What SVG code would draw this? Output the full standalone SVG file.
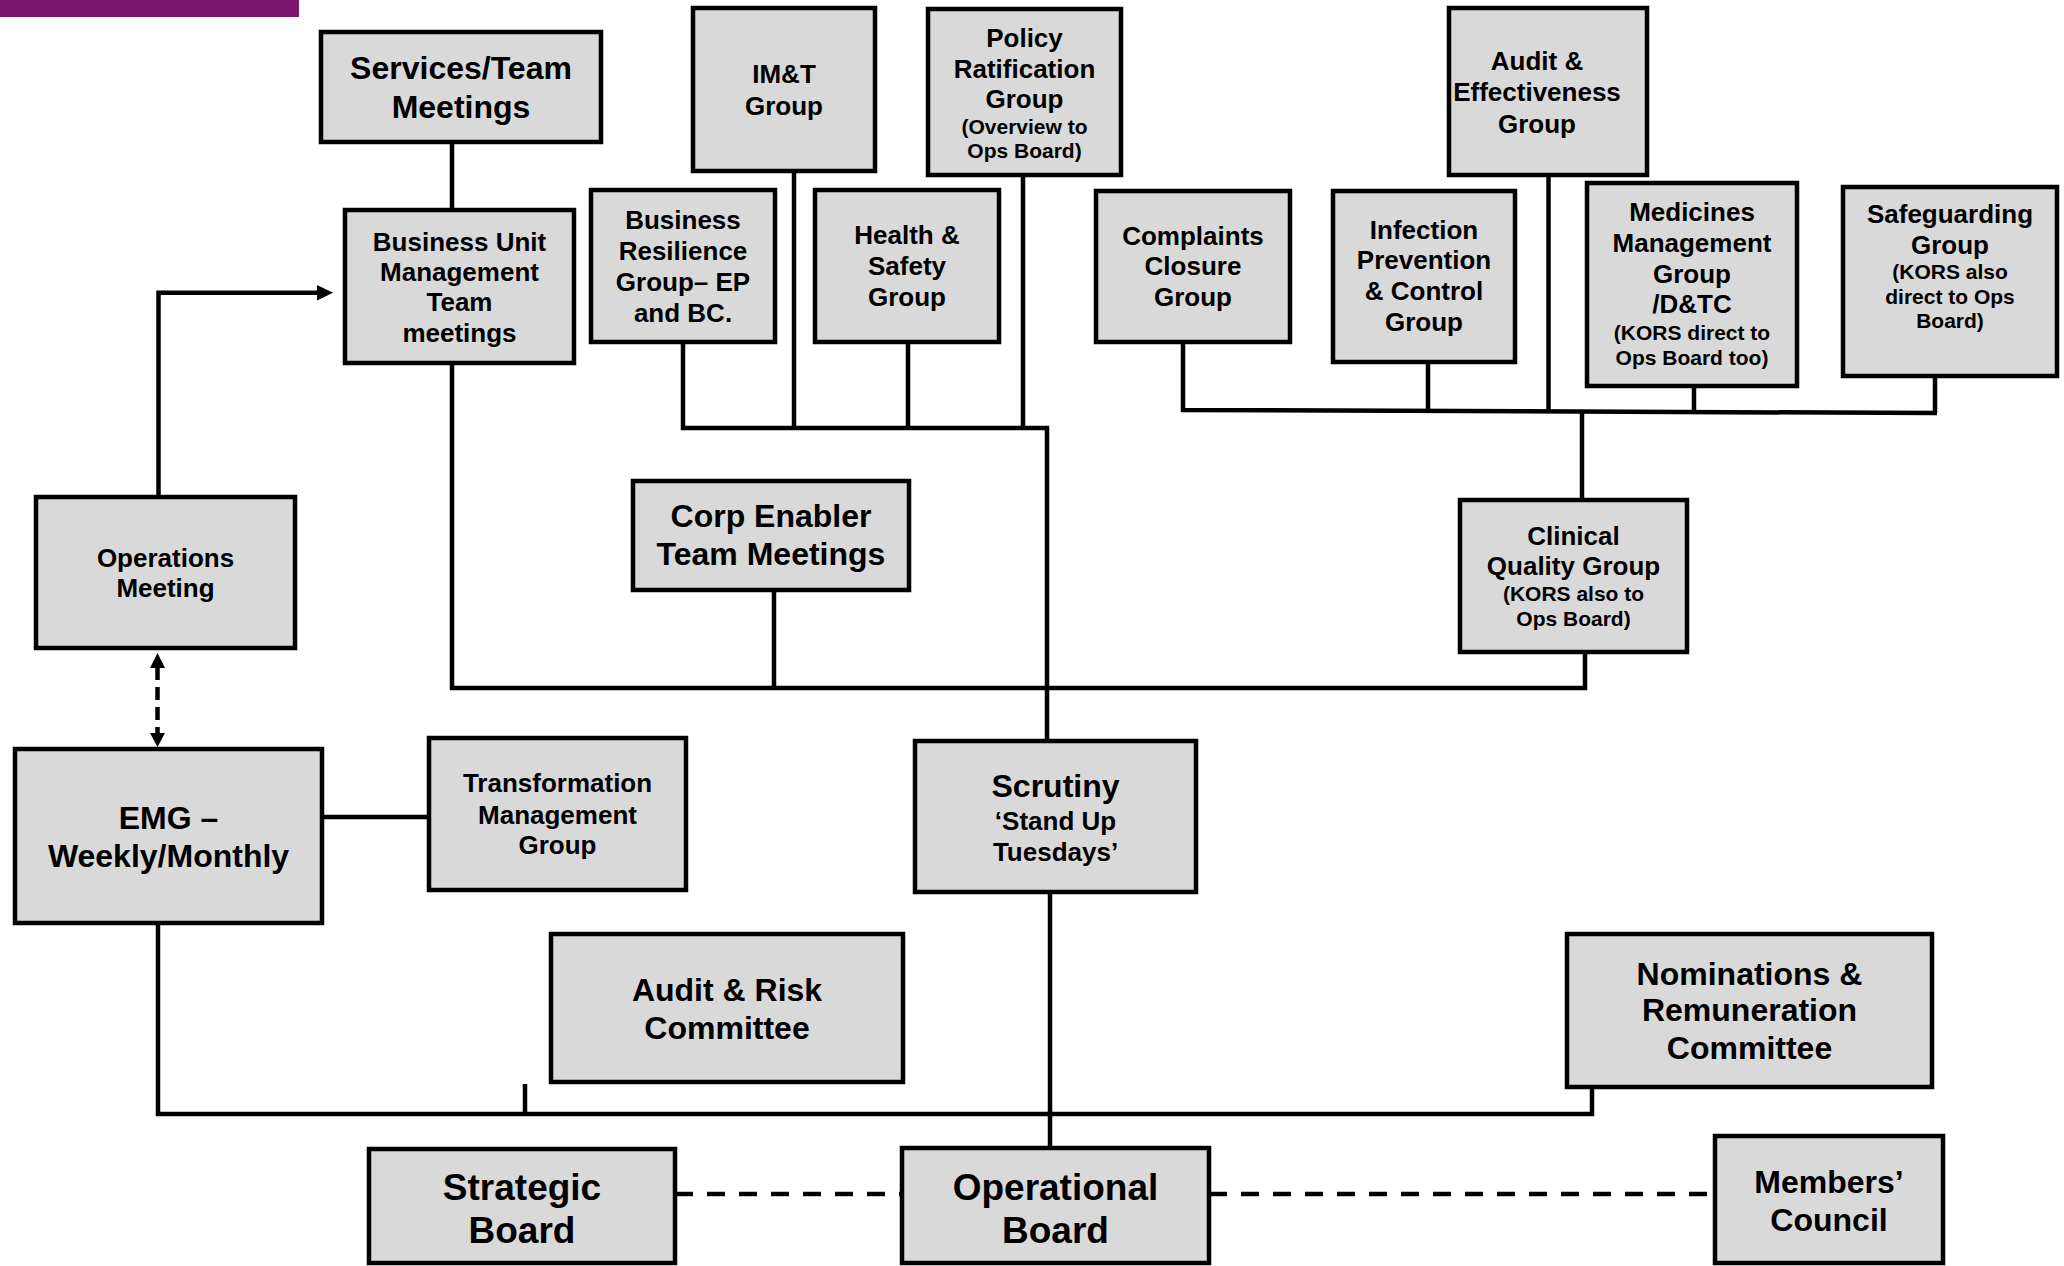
<svg xmlns="http://www.w3.org/2000/svg" width="2064" height="1266" viewBox="0 0 2064 1266">
<style>
.box{fill:#d9d9d9;stroke:#000;stroke-width:4.5}
text{font-family:"Liberation Sans",Arial,sans-serif;font-weight:bold;fill:#000;text-anchor:middle}
.f37{font-size:37px}.f32{font-size:32px}.f26{font-size:26px}.f21{font-size:21px}
.ln{fill:none;stroke:#000;stroke-width:4.5}
.dash{fill:none;stroke:#000;stroke-width:4.5;stroke-dasharray:18 14}
.vdash{fill:none;stroke:#000;stroke-width:4.5;stroke-dasharray:13 7}
</style>
<rect x="0" y="0" width="299" height="17" fill="#7b1570"/>
<g id="connectors">
<path class="ln" d="M452,142 V210"/>
<path class="ln" d="M452,363 V688 H1585 V652"/>
<path class="ln" d="M774,590 V688"/>
<path class="ln" d="M683,342 V428 H1047 V741"/>
<path class="ln" d="M794,171 V428"/>
<path class="ln" d="M908,342 V428"/>
<path class="ln" d="M1023,175 V428"/>
<path class="ln" d="M1050,892 V1148"/>
<path class="ln" d="M1183,342 V410 L1937,413"/>
<path class="ln" d="M1428,362 V411"/>
<path class="ln" d="M1548.5,175 V411"/>
<path class="ln" d="M1694,386 V412"/>
<path class="ln" d="M1935,376 V413"/>
<path class="ln" d="M1582,412 V500"/>
<path class="ln" d="M158.5,497 V292.7 H318"/>
<polygon points="333,292.7 317,285 317,300.4" fill="#000"/>
<path class="vdash" d="M157.5,667 V734"/>
<polygon points="157.5,653 150,668 165,668" fill="#000"/>
<polygon points="157.5,747 150,733 165,733" fill="#000"/>
<path class="ln" d="M322,817 H429"/>
<path class="ln" d="M158,923 V1114 H1592 V1087"/>
<path class="ln" d="M525,1084 V1114"/>
<path class="dash" d="M675,1194 H902"/>
<path class="dash" d="M1209,1194 H1715"/>
</g>
<g id="services"><rect class="box" x="321" y="32" width="280" height="110"/><text class="f32" x="461" y="79">Services/Team</text><text class="f32" x="461" y="118">Meetings</text></g>
<g id="bumt"><rect class="box" x="345" y="210" width="229" height="153"/><text class="f26" x="459.5" y="251">Business Unit</text><text class="f26" x="459.5" y="281">Management</text><text class="f26" x="459.5" y="311">Team</text><text class="f26" x="459.5" y="342">meetings</text></g>
<g id="imt"><rect class="box" x="693" y="8" width="182" height="163"/><text class="f26" x="784" y="83">IM&amp;T</text><text class="f26" x="784" y="115">Group</text></g>
<g id="policy"><rect class="box" x="928" y="9" width="193" height="166"/><text class="f26" x="1024.5" y="47">Policy</text><text class="f26" x="1024.5" y="78">Ratification</text><text class="f26" x="1024.5" y="108">Group</text><text class="f21" x="1024.5" y="134">(Overview to</text><text class="f21" x="1024.5" y="158">Ops Board)</text></g>
<g id="resilience"><rect class="box" x="591" y="190" width="184" height="152"/><text class="f26" x="683" y="229">Business</text><text class="f26" x="683" y="260">Resilience</text><text class="f26" x="683" y="291">Group– EP</text><text class="f26" x="683" y="322">and BC.</text></g>
<g id="hs"><rect class="box" x="815" y="190" width="184" height="152"/><text class="f26" x="907" y="244">Health &amp;</text><text class="f26" x="907" y="275">Safety</text><text class="f26" x="907" y="306">Group</text></g>
<g id="complaints"><rect class="box" x="1096" y="191" width="194" height="151"/><text class="f26" x="1193" y="245">Complaints</text><text class="f26" x="1193" y="275">Closure</text><text class="f26" x="1193" y="306">Group</text></g>
<g id="auditeff"><rect class="box" x="1449" y="8" width="198" height="167"/><text class="f26" x="1537" y="70">Audit &amp;</text><text class="f26" x="1537" y="101">Effectiveness</text><text class="f26" x="1537" y="133">Group</text></g>
<g id="infection"><rect class="box" x="1333" y="191" width="182" height="171"/><text class="f26" x="1424" y="239">Infection</text><text class="f26" x="1424" y="269">Prevention</text><text class="f26" x="1424" y="300">&amp; Control</text><text class="f26" x="1424" y="331">Group</text></g>
<g id="medicines"><rect class="box" x="1587" y="183" width="210" height="203"/><text class="f26" x="1692" y="221">Medicines</text><text class="f26" x="1692" y="252">Management</text><text class="f26" x="1692" y="283">Group</text><text class="f26" x="1692" y="313">/D&amp;TC</text><text class="f21" x="1692" y="340">(KORS direct to</text><text class="f21" x="1692" y="365">Ops Board too)</text></g>
<g id="safeguarding"><rect class="box" x="1843" y="187" width="214" height="189"/><text class="f26" x="1950" y="223">Safeguarding</text><text class="f26" x="1950" y="254">Group</text><text class="f21" x="1950" y="279">(KORS also</text><text class="f21" x="1950" y="304">direct to Ops</text><text class="f21" x="1950" y="328">Board)</text></g>
<g id="clinical"><rect class="box" x="1460" y="500" width="227" height="152"/><text class="f26" x="1573.5" y="545">Clinical</text><text class="f26" x="1573.5" y="575">Quality Group</text><text class="f21" x="1573.5" y="601">(KORS also to</text><text class="f21" x="1573.5" y="626">Ops Board)</text></g>
<g id="corp"><rect class="box" x="633" y="481" width="276" height="109"/><text class="f32" x="771" y="527">Corp Enabler</text><text class="f32" x="771" y="565">Team Meetings</text></g>
<g id="operations"><rect class="box" x="36" y="497" width="259" height="151"/><text class="f26" x="165.5" y="567">Operations</text><text class="f26" x="165.5" y="597">Meeting</text></g>
<g id="emg"><rect class="box" x="15" y="749" width="307" height="174"/><text class="f32" x="168.5" y="829">EMG –</text><text class="f32" x="168.5" y="867">Weekly/Monthly</text></g>
<g id="transformation"><rect class="box" x="429" y="738" width="257" height="152"/><text class="f26" x="557.5" y="792">Transformation</text><text class="f26" x="557.5" y="824">Management</text><text class="f26" x="557.5" y="854">Group</text></g>
<g id="scrutiny"><rect class="box" x="915" y="741" width="281" height="151"/><text class="f32" x="1055.5" y="797">Scrutiny</text><text class="f26" x="1055.5" y="830">‘Stand Up</text><text class="f26" x="1055.5" y="861">Tuesdays’</text></g>
<g id="auditrisk"><rect class="box" x="551" y="934" width="352" height="148"/><text class="f32" x="727" y="1001">Audit &amp; Risk</text><text class="f32" x="727" y="1039">Committee</text></g>
<g id="nominations"><rect class="box" x="1567" y="934" width="365" height="153"/><text class="f32" x="1749.5" y="985">Nominations &amp;</text><text class="f32" x="1749.5" y="1021">Remuneration</text><text class="f32" x="1749.5" y="1059">Committee</text></g>
<g id="strategic"><rect class="box" x="369" y="1149" width="306" height="114"/><text class="f37" x="522" y="1200">Strategic</text><text class="f37" x="522" y="1243">Board</text></g>
<g id="operational"><rect class="box" x="902" y="1148" width="307" height="115"/><text class="f37" x="1055.5" y="1200">Operational</text><text class="f37" x="1055.5" y="1243">Board</text></g>
<g id="members"><rect class="box" x="1715" y="1136" width="228" height="127"/><text class="f32" x="1829" y="1193">Members’</text><text class="f32" x="1829" y="1231">Council</text></g>
</svg>
